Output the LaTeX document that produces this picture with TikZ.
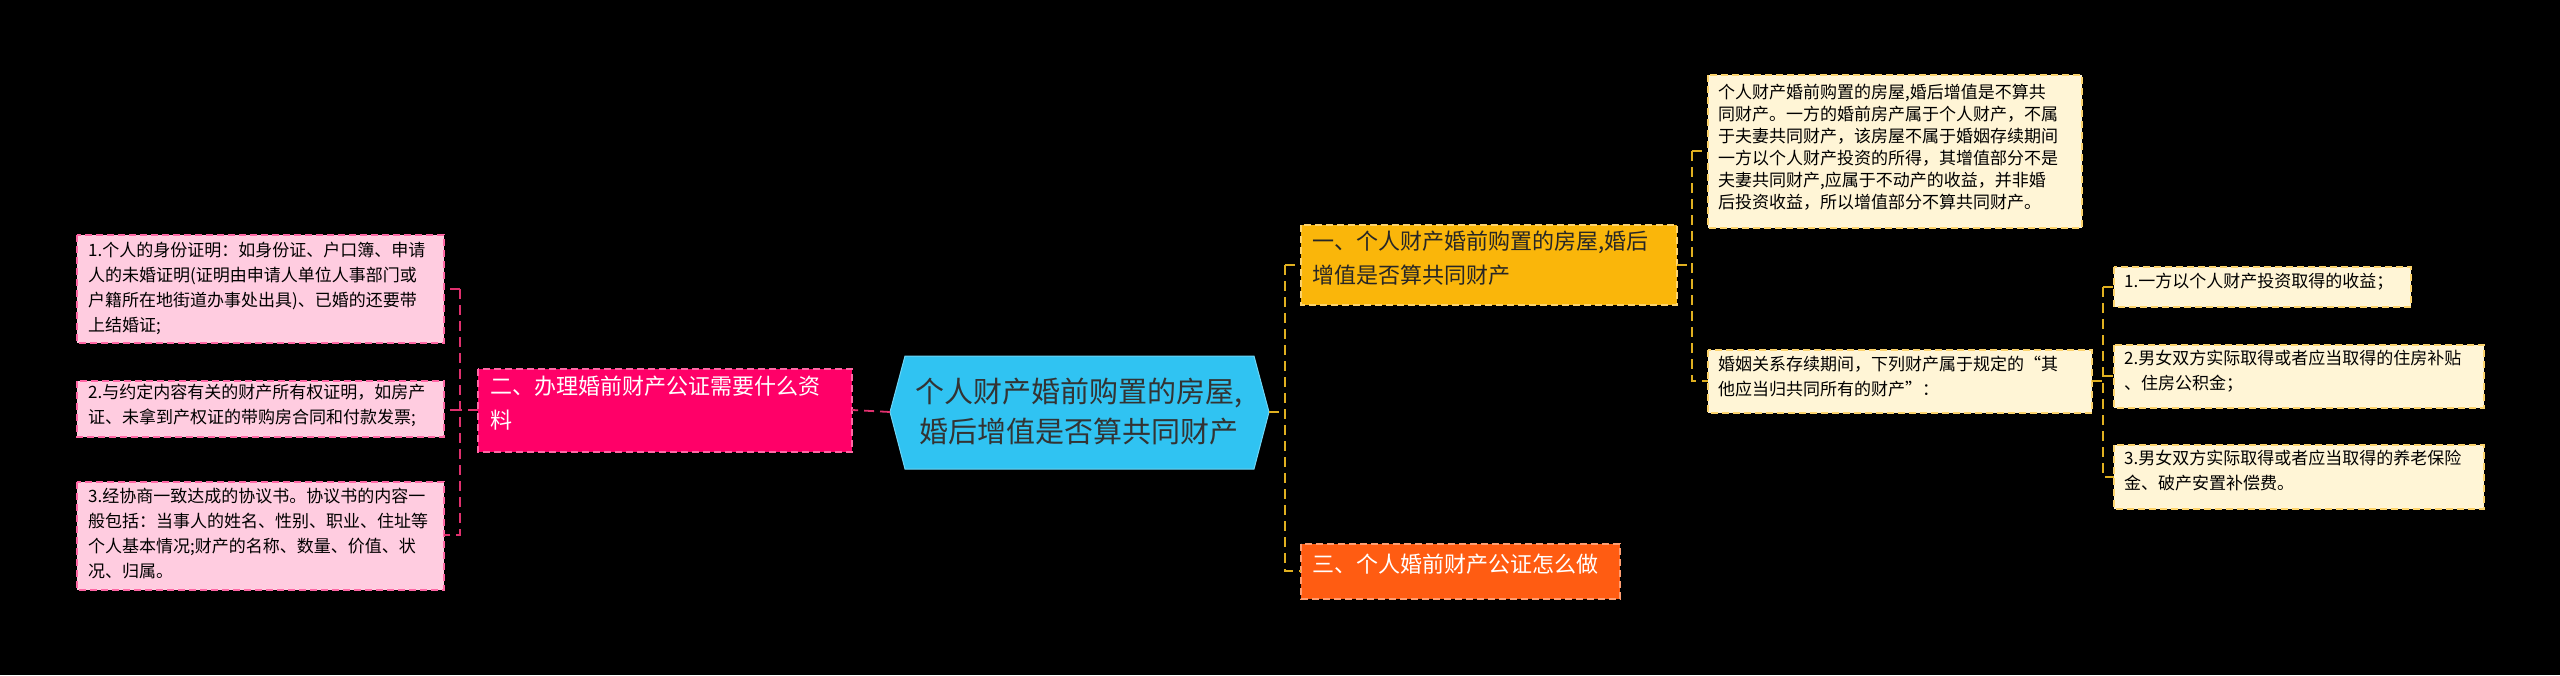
\documentclass[tikz,border=0pt]{standalone}
\usepackage{fontspec}
\setmainfont{Noto Sans CJK SC}
\usetikzlibrary{calc}
\definecolor{bgc}{HTML}{000000}
\definecolor{cyanc}{HTML}{30C3F2}
\definecolor{pinkc}{HTML}{FF0068}
\definecolor{pinkl}{HTML}{FFCCE0}
\definecolor{orac}{HTML}{FAB60A}
\definecolor{orar}{HTML}{FF5C12}
\definecolor{cream}{HTML}{FFF5D6}
\definecolor{lpink}{HTML}{E0306E}
\definecolor{lyel}{HTML}{E0B020}
\begin{document}
\begin{tikzpicture}[x=1pt,y=-1pt,
  bx/.style={anchor=north west,align=left,inner sep=0pt,font=\fontsize{17}{25}\selectfont},
  dsh/.style={dash pattern=on 7pt off 4pt},
  leafp/.style={fill=pinkl,draw=pinkc!60,dsh,line width=1.2pt},
  leafy/.style={fill=cream,draw=orac!60,dsh,line width=1.2pt},
  conp/.style={draw=lpink,dash pattern=on 10pt off 6pt,line width=1.8pt},
  cony/.style={draw=lyel,dash pattern=on 10pt off 6pt,line width=1.8pt}]
\fill[bgc] (0,0) rectangle (2560,675);
\useasboundingbox (0,0) rectangle (2560,675);
% center
\fill[cyanc,draw=cyanc!70!white,line width=1pt] (890,412) -- (905,356) -- (1254,356) -- (1269,412) -- (1254,469) -- (905,469) -- cycle;
\node[align=center,font=\fontsize{29}{40}\selectfont,text=black!80] (c) at (1079,412) {个人财产婚前购置的房屋,\\婚后增值是否算共同财产};
\coordinate (cl) at (890,412); \coordinate (cr) at (1269,412);
% left main
\fill[pinkc,draw=pinkc!60!white,dsh,line width=1.2pt] (478,369) rectangle (852,452);
\node[bx,text=white,font=\fontsize{22}{34}\selectfont] (m2) at (490,376) {二、办理婚前财产公证需要什么资\\料};
\coordinate (m2r) at (852,410); \coordinate (m2l) at (478,410);
% left leaves
\path[leafp] (77,235) rectangle (444,343);
\node[bx] (l1) at (88,242) {1.个人的身份证明：如身份证、户口簿、申请\\人的未婚证明(证明由申请人单位人事部门或\\户籍所在地街道办事处出具)、已婚的还要带\\上结婚证;};
\path[leafp] (77,381) rectangle (444,437);
\node[bx] (l2) at (88,384) {2.与约定内容有关的财产所有权证明，如房产\\证、未拿到产权证的带购房合同和付款发票;};
\path[leafp] (77,482) rectangle (444,590);
\node[bx] (l3) at (88,488) {3.经协商一致达成的协议书。协议书的内容一\\般包括：当事人的姓名、性别、职业、住址等\\个人基本情况;财产的名称、数量、价值、状\\况、归属。};
% right mains
\fill[orac,draw=orac!60!white,dsh,line width=1.2pt] (1301,225) rectangle (1677,305);
\node[bx,text=black!85,font=\fontsize{22}{34}\selectfont] (m1) at (1312,231) {一、个人财产婚前购置的房屋,婚后\\增值是否算共同财产};
\fill[orar,draw=orar!60!white,dsh,line width=1.2pt] (1301,544) rectangle (1620,599);
\node[bx,text=white,font=\fontsize{22}{34}\selectfont] (m3) at (1312,554) {三、个人婚前财产公证怎么做};
% right leaves
\path[leafy] (1708,75) rectangle (2082,228);
\node[bx,font=\fontsize{17}{22}\selectfont] (r1) at (1718,84) {个人财产婚前购置的房屋,婚后增值是不算共\\同财产。一方的婚前房产属于个人财产，不属\\于夫妻共同财产，该房屋不属于婚姻存续期间\\一方以个人财产投资的所得，其增值部分不是\\夫妻共同财产,应属于不动产的收益，并非婚\\后投资收益，所以增值部分不算共同财产。};
\path[leafy] (1708,350) rectangle (2092,413);
\node[bx] (r2) at (1718,356) {婚姻关系存续期间，下列财产属于规定的“其\\他应当归共同所有的财产”：};
\path[leafy] (2114,267) rectangle (2411,307);
\node[bx] (s1) at (2124,273) {1.一方以个人财产投资取得的收益；};
\path[leafy] (2114,345) rectangle (2484,408);
\node[bx] (s2) at (2124,350) {2.男女双方实际取得或者应当取得的住房补贴\\、住房公积金；};
\path[leafy] (2114,445) rectangle (2484,509);
\node[bx] (s3) at (2124,450) {3.男女双方实际取得或者应当取得的养老保险\\金、破产安置补偿费。};
% connectors
\draw[conp] (cl) -- (m2r);
\draw[conp] (m2l) -- (460,410) (460,289) -- (444,289) (460,289) -- (460,535) -- (444,535) (460,410) -- (444,410);
\draw[cony] (cr) -- (1285,412) (1285,265) -- (1301,265) (1285,265) -- (1285,571) -- (1301,571);
\draw[cony] (1677,265) -- (1692,265) (1692,151) -- (1708,151) (1692,151) -- (1692,381) -- (1708,381);
\draw[cony] (2092,381) -- (2103,381) (2103,287) -- (2114,287) (2103,287) -- (2103,477) -- (2114,477) (2103,376) -- (2114,376);
\end{tikzpicture}
\end{document}
